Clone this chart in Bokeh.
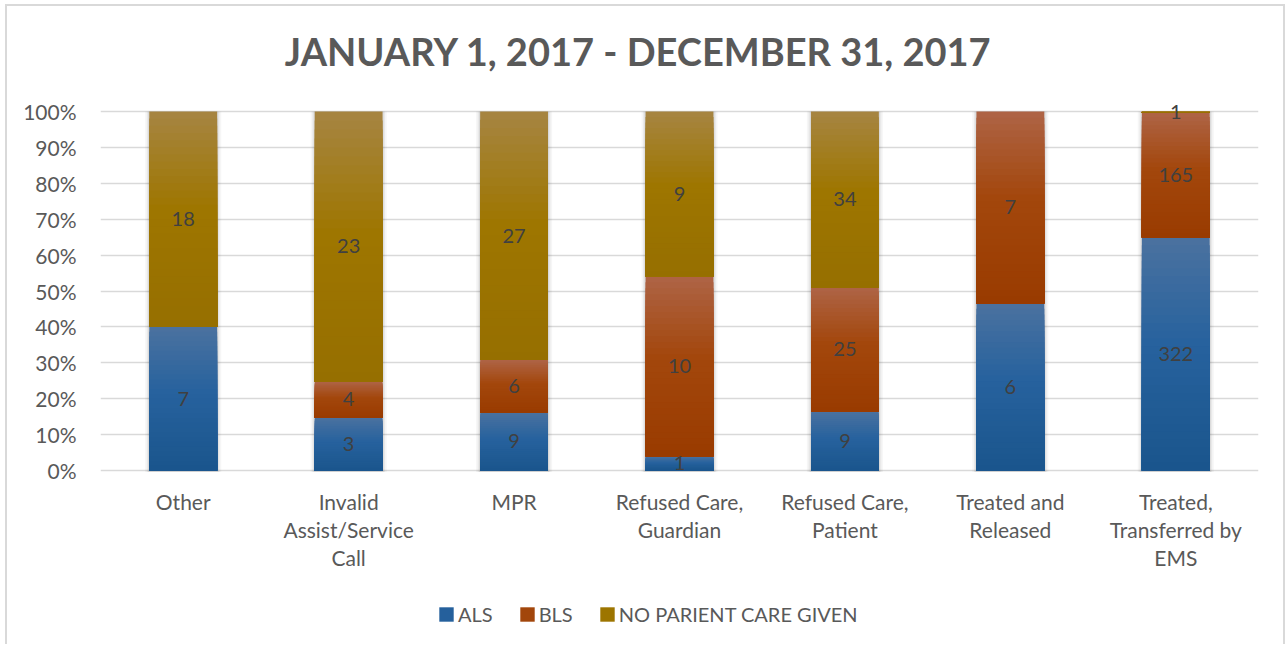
from bokeh.plotting import figure
from bokeh.models import (ColumnDataSource, LabelSet, Label, Legend, LegendItem,
                          FixedTicker, PrintfTickFormatter, Range1d)
from bokeh.core.properties import value
from bokeh.embed import file_html
from bokeh.resources import INLINE

# ---- data ----
categories = ["Other", "Invalid\nAssist/Service\nCall", "MPR", "Refused Care,\nGuardian",
              "Refused Care,\nPatient", "Treated and\nReleased", "Treated,\nTransferred by\nEMS"]
series = ["ALS", "BLS", "NO PARIENT CARE GIVEN"]
als_pct = [40.0, 14.8, 16.2, 4.0, 16.5, 46.6, 64.9]
bls_pct = [0.0, 10.0, 14.6, 50.1, 34.5, 53.4, 34.7]
npc_pct = [60.0, 75.2, 69.2, 45.9, 49.0, 0.0, 0.4]
als_count = ["7", "3", "9", "1", "9", "6", "322"]
bls_count = ["", "4", "6", "10", "25", "7", "165"]
npc_count = ["18", "23", "27", "9", "34", "", "1"]
y_ticks = [0, 10, 20, 30, 40, 50, 60, 70, 80, 90, 100]
title_text = "JANUARY 1, 2017 - DECEMBER 31, 2017"

# gradient stops (top, middle, bottom) per series
stops = [
    [(0x4b, 0x72, 0x9f), (0x27, 0x62, 0x9e), (0x1a, 0x55, 0x8c)],
    [(0xae, 0x64, 0x46), (0xa3, 0x47, 0x0c), (0x99, 0x3b, 0x00)],
    [(0xa6, 0x85, 0x42), (0x9e, 0x76, 0x00), (0x96, 0x6f, 0x00)],
]
FONT = "Lato"
TXT = "#595959"
BAR_W = 0.41


def shade(st, t):
    a, b, lo, hi = (st[0], st[1], 0.0, 0.45) if t <= 0.45 else (st[1], st[2], 0.45, 1.0)
    f = (t - lo) / (hi - lo)
    return "#%02x%02x%02x" % tuple(int(round(a[i] + (b[i] - a[i]) * f)) for i in range(3))


xs = [i + 0.5 for i in range(len(categories))]
totals = [a + b + c for a, b, c in zip(als_pct, bls_pct, npc_pct)]

# the frame spans the full height so the title, category labels and legend sit inside it
Y_LOW, Y_HIGH = -47.31, 130.89
p = figure(frame_width=1158, frame_height=640, min_border_left=100, min_border_right=27,
           min_border_top=0, min_border_bottom=4,
           x_range=Range1d(0, len(categories)), y_range=Range1d(Y_LOW, Y_HIGH),
           output_backend="svg", toolbar_location=None, tools="")
p.title.visible = False
p.outline_line_color = None
p.border_fill_color = None
p.background_fill_color = None
line = "linear-gradient(#d9d9d9, #d9d9d9)"
p.styles = {
    "background-color": "white",
    "background-image": ", ".join([line] * 3),
    "background-size": "2px 100%, 100% 2px, 2px 100%",
    "background-position": "5px 5px, 5px 4px, 1283px 5px",
    "background-repeat": "no-repeat",
}

# title
p.add_layout(Label(x=3.252, y=116.7, text=title_text, text_align="center",
                   text_baseline="alphabetic", text_font=FONT, text_font_style="bold",
                   text_font_size="38px", text_color=TXT))

# soft shadow around each bar
for extra, alpha in ((0.050, 0.035), (0.030, 0.05), (0.014, 0.07)):
    p.vbar(x=xs, bottom=-0.4, top=totals, width=BAR_W + extra, fill_color="#000000",
           fill_alpha=alpha, line_color=None)

# stacked bars with a vertical gradient (nested slices, light at top)
N = 30
legend_items = []
base = [0.0] * len(xs)
for s_idx, (name, pcts, labs) in enumerate(zip(series, (als_pct, bls_pct, npc_pct),
                                                (als_count, bls_count, npc_count))):
    mid_r = None
    for k in range(N):
        frac = 1.0 - k / N
        tops = [b + v * frac for b, v in zip(base, pcts)]
        r = p.vbar(x=xs, bottom=base, top=tops, width=BAR_W,
                   fill_color=shade(stops[s_idx], (k + 0.5) / N), line_color=None)
        if k == N // 2:
            mid_r = r
    legend_items.append(LegendItem(label=name, renderers=[mid_r]))
    mids = [b + v / 2 for b, v in zip(base, pcts)]
    ls = ColumnDataSource(dict(x=xs, y=mids, t=labs))
    p.add_layout(LabelSet(x="x", y="y", text="t", source=ls, text_align="center",
                          text_baseline="middle", text_font=value(FONT),
                          text_font_size="20px", text_color="#404040"))
    base = [b + v for b, v in zip(base, pcts)]

# category labels under the bars, one centred line at a time
LINE_STEP = 7.876   # 28.3 px per line
FIRST_BASE = -10.85
cx, cy, ct = [], [], []
for x, cat in zip(xs, categories):
    for i, ln in enumerate(cat.split("\n")):
        cx.append(x)
        cy.append(FIRST_BASE - i * LINE_STEP)
        ct.append(ln)
p.add_layout(LabelSet(x="x", y="y", text="t", source=ColumnDataSource(dict(x=cx, y=cy, t=ct)),
                      text_align="center", text_baseline="alphabetic", text_font=value(FONT),
                      text_font_size="21px", text_color=TXT))

# axes
p.yaxis.ticker = FixedTicker(ticks=y_ticks)
p.yaxis.formatter = PrintfTickFormatter(format="%d%%")
p.yaxis.axis_line_color = None
p.yaxis.major_tick_line_color = None
p.yaxis.minor_tick_line_color = None
p.yaxis.major_label_standoff = 18
p.yaxis.major_label_text_font = FONT
p.yaxis.major_label_text_font_size = "21px"
p.yaxis.major_label_text_color = TXT
p.xaxis.visible = False

p.xgrid.grid_line_color = None
p.ygrid.grid_line_color = "#d9d9d9"
p.ygrid.grid_line_width = 1.5

legend = Legend(items=legend_items, orientation="horizontal", location=(337, 14),
                glyph_width=18, glyph_height=18,
                label_text_font=FONT, label_text_font_size="20px", label_text_color=TXT,
                label_standoff=3, spacing=25, border_line_color=None,
                background_fill_alpha=0, padding=0, margin=0)
p.add_layout(legend)

open("out.html", "w").write(file_html(p, INLINE))
